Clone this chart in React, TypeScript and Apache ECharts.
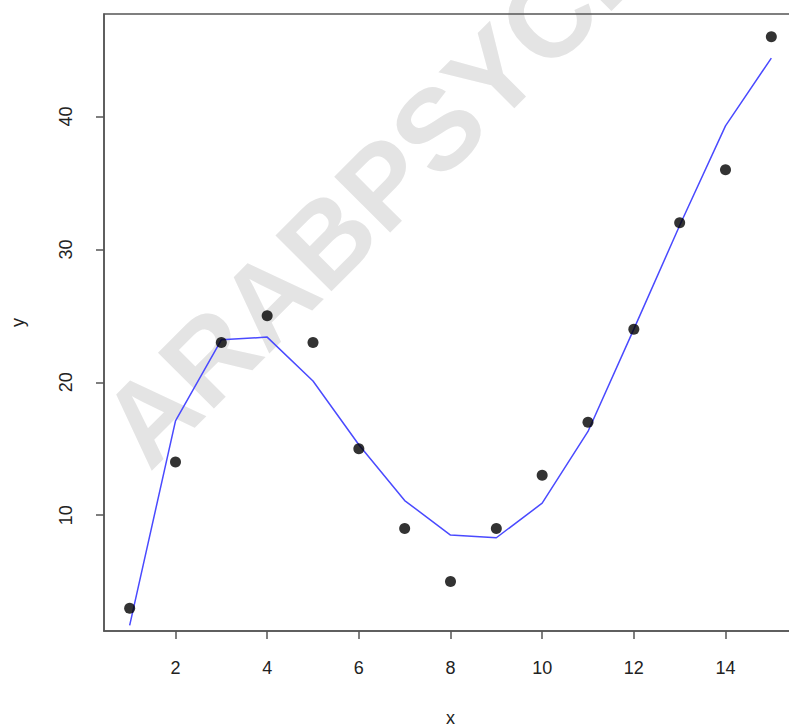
import React, { useEffect, useRef } from "react";
import * as echarts from "echarts";

const xValues = [1, 2, 3, 4, 5, 6, 7, 8, 9, 10, 11, 12, 13, 14, 15];
const yValues = [3, 14, 23, 25, 23, 15, 9, 5, 9, 13, 17, 24, 32, 36, 46];
const fitValues = [1.7, 17.1, 23.2, 23.4, 20.1, 15.3, 11.1, 8.5, 8.3, 10.9, 16.3, 24.0, 31.8, 39.3, 44.4];
const xTicks = [2, 4, 6, 8, 10, 12, 14];
const yTicks = [10, 20, 30, 40];
const xName = "x";
const yName = "y";
const watermark = "ARABPSYCH";

export default function App() {
  const ref = useRef<HTMLDivElement>(null);
  useEffect(() => {
    document.body.style.margin = "0";
    const chart = echarts.init(ref.current!, null, { renderer: "svg" });
    const font = "Liberation Sans";
    const axisColor = "#555";
    const theta = (45 * Math.PI) / 180;
    const fs = 115;
    const p0 = [150, 473];
    const v = [-Math.sin(theta), -Math.cos(theta)];
    const ox = p0[0] + 0.35 * fs * v[0];
    const oy = p0[1] + 0.35 * fs * v[1];
    chart.setOption({
      animation: false,
      backgroundColor: "#fff",
      grid: {
        left: 104,
        top: 14,
        width: 693,
        height: 617,
        show: true,
        borderColor: axisColor,
        borderWidth: 1.5,
        backgroundColor: "transparent",
        containLabel: false,
        outerBoundsMode: "none",
      },
      graphic: [
        {
          type: "text",
          x: ox,
          y: oy,
          rotation: theta,
          z: -1,
          silent: true,
          style: {
            text: watermark,
            fill: "#e4e4e4",
            fontSize: fs,
            fontWeight: "bold",
            fontFamily: font,
            align: "left",
            verticalAlign: "middle",
          },
        },
      ],
      xAxis: {
        type: "value",
        min: 0.44,
        max: 15.56,
        name: xName,
        nameLocation: "middle",
        nameGap: 80,
        nameTextStyle: { fontSize: 18, lineHeight: 14, color: "#222", fontFamily: font },
        axisLine: { show: true, lineStyle: { color: axisColor, width: 1.5 } },
        splitLine: { show: false },
        axisTick: {
          show: true,
          inside: false,
          length: 8,
          customValues: xTicks,
          lineStyle: { color: axisColor, width: 1.5 },
        },
        axisLabel: { customValues: xTicks, margin: 28, fontSize: 18, color: "#222", fontFamily: font },
      },
      yAxis: {
        type: "value",
        min: 1.28,
        max: 47.72,
        name: yName,
        nameLocation: "middle",
        nameGap: 77,
        nameRotate: 90,
        nameTextStyle: { fontSize: 18, color: "#222", fontFamily: font },
        axisLine: { show: true, lineStyle: { color: axisColor, width: 1.5 } },
        splitLine: { show: false },
        axisTick: {
          show: true,
          inside: false,
          length: 8,
          customValues: yTicks,
          lineStyle: { color: axisColor, width: 1.5 },
        },
        axisLabel: { customValues: yTicks, margin: 29, rotate: 90, fontSize: 18, color: "#222", fontFamily: font },
      },
      series: [
        {
          type: "line",
          data: xValues.map((x, i) => [x, fitValues[i]]),
          showSymbol: false,
          lineStyle: { color: "#4a4aff", width: 1.5 },
          z: 2,
        },
        {
          type: "scatter",
          data: xValues.map((x, i) => [x, yValues[i]]),
          symbol: "circle",
          symbolSize: 11,
          itemStyle: { color: "#000" },
          z: 3,
        },
      ],
    });
    return () => chart.dispose();
  }, []);
  return <div ref={ref} style={{ width: 789, height: 727 }} />;
}
